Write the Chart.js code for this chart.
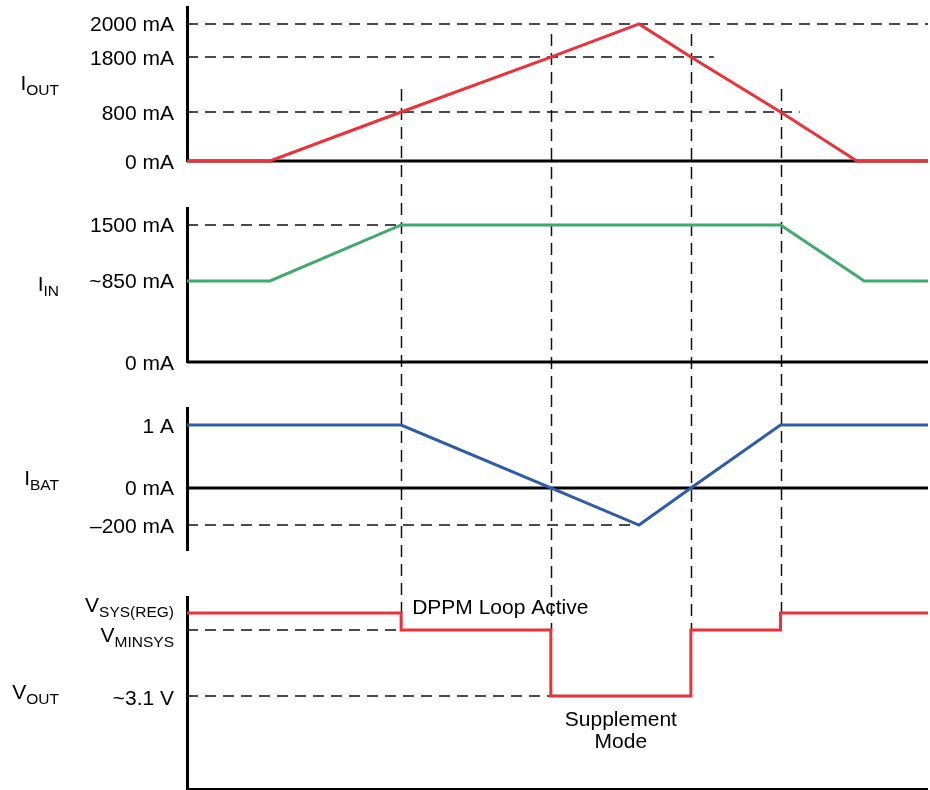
<!DOCTYPE html>
<html>
<head>
<meta charset="utf-8">
<title>DPPM and battery supplement timing</title>
<script src="https://cdn.jsdelivr.net/npm/chart.js@4.4.1/dist/chart.umd.min.js"></script>
<style>
html, body { margin: 0; padding: 0; background: #fff; }
#wrap { position: relative; width: 930px; height: 790px; }
</style>
</head>
<body>
<div id="wrap"><canvas id="timing"></canvas></div>
<script>
// time is in arbitrary units, 0..100 across the plot
var ioutT  = [0, 11.2, 28.9, 49.1, 61.0, 68.0, 80.1, 90.4, 100];
var ioutMA = [0, 0, 800, 1800, 2000, 1800, 800, 0, 0];

var iinT  = [0, 11.2, 28.9, 80.1, 91.4, 100];
var iinMA = [850, 850, 1500, 1500, 850, 850];

var ibatT  = [0, 28.9, 49.1, 61.0, 68.0, 80.1, 100];
var ibatMA = [1000, 1000, 0, -200, 0, 1000, 1000];

// V_SYS(REG) = 4.2, V_MINSYS = 3.6 (nominal levels), supplement ~3.1 V
var voutT = [0, 28.9, 28.9, 49.1, 49.1, 68.0, 68.0, 80.1, 80.1, 100];
var voutV = [4.2, 4.2, 3.6, 3.6, 3.1, 3.1, 3.6, 3.6, 4.2, 4.2];

// tick levels and labels
var ioutTicks = [0, 800, 1800, 2000];
var ioutTickLabels = ['0 mA', '800 mA', '1800 mA', '2000 mA'];
var iinTicks = [0, 850, 1500];
var iinTickLabels = ['0 mA', '~850 mA', '1500 mA'];
var ibatTicks = [-200, 0, 1000];
var ibatTickLabels = ['\u2013200 mA', '0 mA', '1 A'];
var voutTicks = [3.1, 3.6, 4.2];
var voutTickLabels = ['~3.1 V', 'V_MINSYS', 'V_SYS(REG)'];

// dashed guide lines: level and the time where they stop
var ioutGuideMA = [2000, 1800, 800];
var ioutGuideEnd = [100, 71.1, 82.7];
var iinGuideMA = [1500];
var iinGuideEnd = [28.9];
var ibatGuideMA = [-200];
var ibatGuideEnd = [61.0];
var voutGuideV = [3.6, 3.1];
var voutGuideEnd = [28.9, 49.1];

// vertical dashed markers
var markT = [28.9, 49.1, 68.0, 80.1];
var markFromMA = [800, 1800, 1800, 800];
var markToV = [4.2, 3.6, 3.6, 4.2];

var FONT = '"Liberation Sans", Arial, sans-serif';
var RED = '#ec3138', GREEN = '#3faa6d', BLUE = '#2e5ca8';

// schematic (non linear) axes: value -> relative height inside the panel
var axisMaps = {
  yI: { vals: [0, 800, 1800, 2000, 2200], pos: [0, 0.318, 0.675, 0.890, 1] },
  yIn: { vals: [0, 850, 1500, 1700], pos: [0, 0.526, 0.890, 1] },
  yB: { vals: [-300, -200, 0, 1000, 1200], pos: [0, 0.176, 0.437, 0.880, 1] },
  yV: { vals: [0, 3.1, 3.6, 4.2, 4.6], pos: [0, 0.484, 0.828, 0.917, 1] }
};

function interp(xs, ys, v) {
  var i = 1;
  while (i < xs.length - 1 && v > xs[i]) i++;
  var f = (v - xs[i - 1]) / (xs[i] - xs[i - 1]);
  return ys[i - 1] + f * (ys[i] - ys[i - 1]);
}

class BentScale extends Chart.LinearScale {
  getPixelForValue(value) {
    var m = axisMaps[this.id];
    return this.getPixelForDecimal(interp(m.vals, m.pos, value));
  }
  getValueForPixel(pixel) {
    var m = axisMaps[this.id];
    return interp(m.pos, m.vals, this.getDecimalForPixel(pixel));
  }
}
BentScale.id = 'bent';
BentScale.defaults = {};
Chart.register(BentScale);

function pts(ts, vs) {
  return ts.map(function (t, i) { return { x: t, y: vs[i] }; });
}

function series(ts, vs, axis, color) {
  return { data: pts(ts, vs), yAxisID: axis, borderColor: color, borderWidth: 3,
    pointRadius: 0, fill: false, tension: 0, order: 0, clip: false };
}

function baseline(axis, level, width) {
  return { data: pts([0, 100], [level, level]), yAxisID: axis, borderColor: '#000',
    borderWidth: width, pointRadius: 0, fill: false, order: 1, clip: false };
}

function guides(axis, levels, ends) {
  return levels.map(function (lv, i) {
    return { data: pts([0, ends[i]], [lv, lv]), yAxisID: axis, borderColor: '#111',
      borderWidth: 1.5, borderDash: [11, 7], pointRadius: 0, fill: false, order: 2, clip: false };
  });
}

var datasets = [
  series(ioutT, ioutMA, 'yI', RED),
  series(iinT, iinMA, 'yIn', GREEN),
  series(ibatT, ibatMA, 'yB', BLUE),
  series(voutT, voutV, 'yV', RED),
  baseline('yI', 0, 3),
  baseline('yIn', 0, 3),
  baseline('yB', 0, 3),
  baseline('yV', 0, 2)
].concat(guides('yI', ioutGuideMA, ioutGuideEnd))
 .concat(guides('yIn', iinGuideMA, iinGuideEnd))
 .concat(guides('yB', ibatGuideMA, ibatGuideEnd))
 .concat(guides('yV', voutGuideV, voutGuideEnd));

function panelAxis(stackWeight, weight) {
  return { type: 'bent', position: 'left', stack: 'p', stackWeight: stackWeight, weight: weight,
    grid: { display: false, drawTicks: false }, ticks: { display: false },
    border: { display: true, color: '#000', width: 3 } };
}
function gapAxis(stackWeight, weight) {
  return { type: 'linear', display: false, position: 'left', stack: 'p',
    stackWeight: stackWeight, weight: weight };
}

var axisMin = { yI: 0, yIn: 0, yB: -300, yV: 0 };
var axisMax = { yI: 2200, yIn: 1700, yB: 1200, yV: 4.6 };

var scales = {
  x: { type: 'linear', min: 0, max: 100, display: false },
  yI: panelAxis(154, 7),
  g1: gapAxis(47, 6),
  yIn: panelAxis(154, 5),
  g2: gapAxis(46, 4),
  yB: panelAxis(142, 3),
  g3: gapAxis(47, 2),
  yV: panelAxis(192, 1)
};
Object.keys(axisMin).forEach(function (k) {
  scales[k].min = axisMin[k];
  scales[k].max = axisMax[k];
});

function drawRich(ctx, text, xRight, base, size, subSize) {
  var parts = text.split('_');
  ctx.font = size + 'px ' + FONT;
  var w1 = ctx.measureText(parts[0]).width;
  var w2 = 0;
  if (parts[1]) {
    ctx.font = subSize + 'px ' + FONT;
    w2 = ctx.measureText(parts[1]).width;
  }
  var x = xRight - w1 - w2;
  ctx.textAlign = 'left';
  ctx.textBaseline = 'alphabetic';
  ctx.fillStyle = '#000';
  ctx.font = size + 'px ' + FONT;
  ctx.fillText(parts[0], x, base);
  if (parts[1]) {
    ctx.font = subSize + 'px ' + FONT;
    ctx.fillText(parts[1], x + w1, base + 5);
  }
}

var timingPlugin = {
  id: 'timing',
  beforeDatasetsDraw: function (chart) {
    var ctx = chart.ctx, sx = chart.scales.x, yI = chart.scales.yI, yV = chart.scales.yV;
    ctx.save();
    ctx.strokeStyle = '#111';
    ctx.lineWidth = 1.5;
    ctx.setLineDash([12, 7]);
    markT.forEach(function (t, i) {
      var x = Math.round(sx.getPixelForValue(t)) + 0.5;
      ctx.beginPath();
      ctx.moveTo(x, yI.getPixelForValue(markFromMA[i]) - 23);
      ctx.lineTo(x, yV.getPixelForValue(markToV[i]));
      ctx.stroke();
    });
    ctx.restore();
  },
  afterDraw: function (chart) {
    var ctx = chart.ctx, sx = chart.scales.x;
    var panels = [
      { id: 'yI', title: 'I_OUT', ticks: ioutTicks, labels: ioutTickLabels, shift: [7.5, 7.5, 7.5, 7.5] },
      { id: 'yIn', title: 'I_IN', ticks: iinTicks, labels: iinTickLabels, shift: [7.5, 7.5, 7.5] },
      { id: 'yB', title: 'I_BAT', ticks: ibatTicks, labels: ibatTickLabels, shift: [7.5, 7.5, 7.5] },
      { id: 'yV', title: 'V_OUT', ticks: voutTicks, labels: voutTickLabels, shift: [8.5, 12, -1] }
    ];
    ctx.save();
    panels.forEach(function (p) {
      var sc = chart.scales[p.id];
      p.ticks.forEach(function (v, i) {
        drawRich(ctx, p.labels[i], sc.left - 13, sc.getPixelForValue(v) + p.shift[i], 21, 15.5);
      });
      drawRich(ctx, p.title, 59, (sc.top + sc.bottom) / 2 + 6, 21, 15.5);
    });
    // annotations
    var yV = chart.scales.yV;
    ctx.fillStyle = '#000';
    ctx.font = '21px ' + FONT;
    ctx.textAlign = 'left';
    ctx.textBaseline = 'alphabetic';
    ctx.fillText('DPPM Loop Active', sx.getPixelForValue(28.9) + 11, yV.getPixelForValue(4.2) + 1);
    ctx.textAlign = 'center';
    var cx = (sx.getPixelForValue(49.1) + sx.getPixelForValue(68.0)) / 2;
    ctx.fillText('Supplement', cx, yV.getPixelForValue(3.1) + 30);
    ctx.fillText('Mode', cx, yV.getPixelForValue(3.1) + 52);
    ctx.restore();
  }
};

new Chart(document.getElementById('timing'), {
  type: 'line',
  data: { datasets: datasets },
  options: {
    responsive: true,
    maintainAspectRatio: false,
    animation: false,
    layout: { padding: { left: 187, right: 2, top: 7, bottom: 1 } },
    plugins: { legend: { display: false }, tooltip: { enabled: false }, title: { display: false } },
    scales: scales
  },
  plugins: [timingPlugin]
});
</script>
</body>
</html>
